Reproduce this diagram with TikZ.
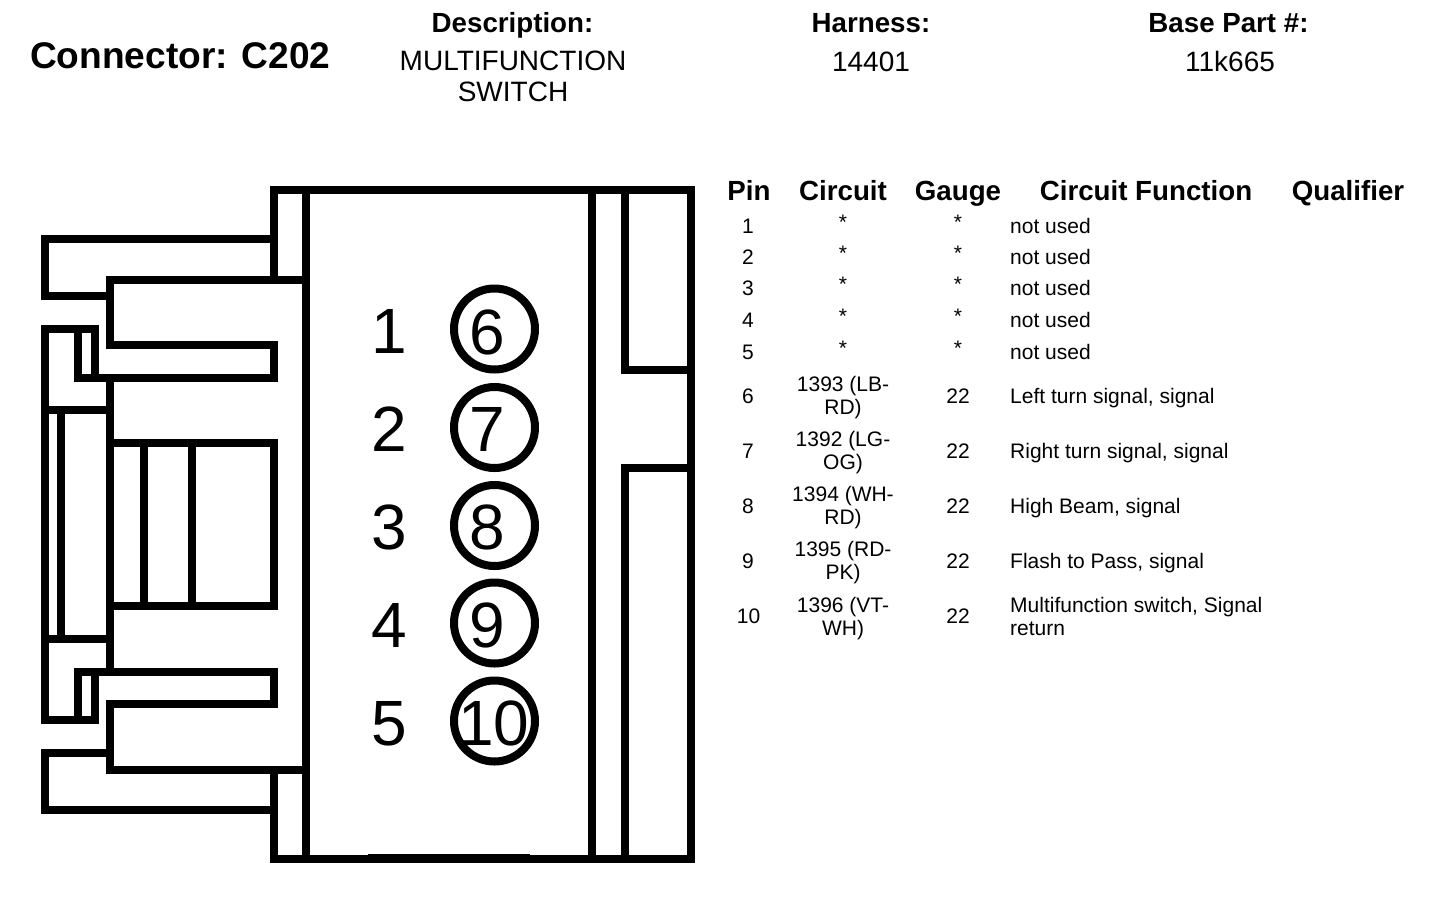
\documentclass[tikz,border=0pt]{standalone}
\usepackage{fontspec}
\setmainfont{Liberation Sans}
\tikzset{
  outline/.style={line width=8pt,line cap=square,line join=miter,black},
  pinring/.style={draw,circle,line width=8pt,minimum size=81pt,inner sep=0pt,outer sep=0pt},
  pinnum/.style={font=\fontsize{64}{64}\selectfont,inner sep=0pt,anchor=base},
  title/.style={font=\bfseries\fontsize{37.1}{37.1}\selectfont,inner sep=0pt,anchor=base west},
  hdr/.style={font=\bfseries\fontsize{27.7}{27.7}\selectfont,inner sep=0pt,anchor=base},
  val/.style={font=\fontsize{28}{31}\selectfont,inner sep=0pt,align=center},
  thead/.style={font=\bfseries\fontsize{27.7}{27.7}\selectfont,inner sep=0pt,anchor=base},
  cell/.style={font=\fontsize{21}{23}\selectfont,inner sep=0pt,align=center},
  lcell/.style={font=\fontsize{21}{23}\selectfont,inner sep=0pt,align=left,anchor=west},
  bcell/.style={font=\fontsize{21}{23}\selectfont,inner sep=0pt,anchor=base west},
}
\begin{document}
\begin{tikzpicture}[x=1pt,y=-1pt]
\useasboundingbox (0,0) rectangle (1440,900);
\fill[white] (0,0) rectangle (1440,900);
% header
\node[title] (conn) at (30,68) {Connector: C202};
\node[hdr] (dh) at (512.5,32) {Description:};
\node[val] (dv) at (513,76) {MULTIFUNCTION\\SWITCH};
\node[hdr] (hh) at (871,32) {Harness:};
\node[val] (hv) at (871,61.5) {14401};
\node[hdr] (bh) at (1228.5,32) {Base Part \#:};
\node[val] (bv) at (1230,61) {11k665};
% connector body
\draw[outline] (274,239) -- (274,190) -- (691,190) -- (691,859) -- (274,859) -- (274,810);
\draw[outline] (306,190) -- (306,859);
\draw[outline] (592,190) -- (592,859);
\draw[outline] (625,190) -- (625,370) -- (691,370);
\draw[outline] (625,859) -- (625,468) -- (691,468);
\draw[line width=9.5pt] (368,858.5) -- (530,858.5);
% upper latch
\draw[outline] (274,239) -- (45,239) -- (45,296) -- (110,296);
\draw[outline] (274,239) -- (274,280);
\draw[outline] (306,280) -- (110,280) -- (110,345) -- (274,345) -- (274,378) -- (78,378) -- (78,329);
\draw[outline] (45,410) -- (45,329) -- (95,329) -- (95,378);
% lower latch
\draw[outline] (274,810) -- (45,810) -- (45,753) -- (110,753);
\draw[outline] (274,810) -- (274,770);
\draw[outline] (306,770) -- (110,770) -- (110,704) -- (274,704) -- (274,672) -- (78,672) -- (78,720);
\draw[outline] (45,639) -- (45,720) -- (95,720) -- (95,672);
% middle
\draw[outline] (45,410) -- (110,410);
\draw[outline] (45,639) -- (110,639);
\draw[outline] (45,410) -- (45,639);
\draw[outline] (60.5,410) -- (60.5,639);
\draw[outline] (110,378) -- (110,672);
\draw[outline] (110,443) -- (274,443) -- (274,606) -- (110,606);
\draw[outline] (143.5,443) -- (143.5,606);
\draw[outline] (192,443) -- (192,606);
% pins
\node[pinnum] (n1) at (389,353) {1};
\node[pinnum] (n2) at (389.5,451) {2};
\node[pinnum] (n3) at (389.5,549) {3};
\node[pinnum] (n4) at (389.5,647) {4};
\node[pinnum] (n5) at (389.5,745) {5};
\node[pinring] (p6) at (494.5,329) {};
\node[pinring] (p7) at (494.5,427.5) {};
\node[pinring] (p8) at (494.5,525.5) {};
\node[pinring] (p9) at (494.5,623) {};
\node[pinring] (p10) at (494.5,721) {};
\node[pinnum] (d6) at (487,354) {6};
\node[pinnum] (d7) at (487,451.5) {7};
\node[pinnum] (d8) at (487,549.5) {8};
\node[pinnum] (d9) at (487,647) {9};
\node[pinnum] (d10) at (494,745) {10};
% table
\node[thead] (t1) at (749,200) {Pin};
\node[thead] (t2) at (843,200) {Circuit};
\node[thead] (t3) at (958,200) {Gauge};
\node[thead] (t4) at (1146,200) {Circuit Function};
\node[thead] (t5) at (1348,200) {Qualifier};
\foreach \y/\p/\s in {226/1/222,257/2/253,288/3/284,320/4/316,352/5/348}{
  \node[cell] (pin\p) at (748,\y) {\p};
  \node[cell] (cir\p) at (843,\s) {*};
  \node[cell] (gau\p) at (958,\s) {*};
  \node[lcell] (fun\p) at (1010,\y) {not used};
}
\node[cell] (pin6) at (748,396) {6};
\node[cell] (cir6) at (843,398) {1393 (LB-\\RD)};
\node[cell] (gau6) at (958,396) {22};
\node[bcell] (fun6) at (1010,403) {Left turn signal, signal};
\node[cell] (pin7) at (748,451) {7};
\node[cell] (cir7) at (843,453) {1392 (LG-\\OG)};
\node[cell] (gau7) at (958,451) {22};
\node[bcell] (fun7) at (1010,458) {Right turn signal, signal};
\node[cell] (pin8) at (748,506) {8};
\node[cell] (cir8) at (843,508) {1394 (WH-\\RD)};
\node[cell] (gau8) at (958,506) {22};
\node[bcell] (fun8) at (1010,513) {High Beam, signal};
\node[cell] (pin9) at (748,561) {9};
\node[cell] (cir9) at (843,563) {1395 (RD-\\PK)};
\node[cell] (gau9) at (958,561) {22};
\node[bcell] (fun9) at (1010,568.5) {Flash to Pass, signal};
\node[cell] (pin10) at (748.5,616) {10};
\node[cell] (cir10) at (843,619) {1396 (VT-\\WH)};
\node[cell] (gau10) at (958,616) {22};
\node[lcell] (fun10) at (1010,616) {Multifunction switch, Signal\\return};
\end{tikzpicture}
\end{document}
